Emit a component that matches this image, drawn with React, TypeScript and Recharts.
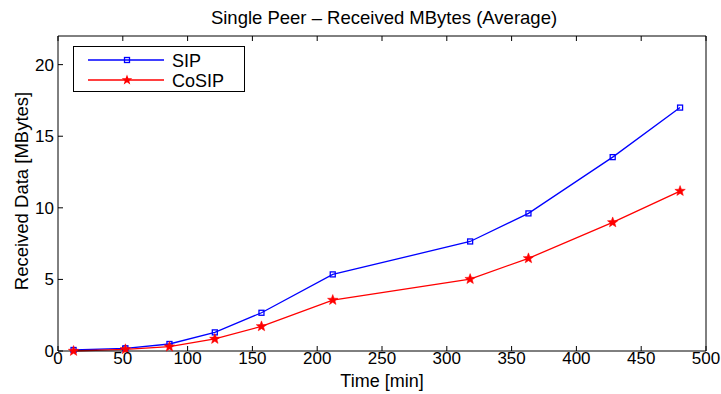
import { Line, LineChart, XAxis, YAxis } from "recharts";

const times = [12, 52, 86, 121, 157, 212, 318, 363, 428, 480];
const sipMB = [0.07, 0.19, 0.49, 1.3, 2.67, 5.35, 7.65, 9.61, 13.54, 17.0];
const cosipMB = [0.0, 0.12, 0.3, 0.84, 1.72, 3.56, 5.02, 6.47, 8.98, 11.17];
const xTicks = [0, 50, 100, 150, 200, 250, 300, 350, 400, 450, 500];
const yTicks = [0, 5, 10, 15, 20];

const data = times.map((t, i) => ({ t, sip: sipMB[i], cosip: cosipMB[i] }));

const FONT = "'Liberation Sans', Arial, Helvetica, sans-serif";

function starPath(cx: number, cy: number, r: number) {
  const pts: string[] = [];
  for (let k = 0; k < 10; k++) {
    const rr = k % 2 === 0 ? r : r * 0.42;
    const a = -Math.PI / 2 + (k * Math.PI) / 5;
    pts.push(`${cx + rr * Math.cos(a)},${cy + rr * Math.sin(a)}`);
  }
  return "M" + pts.join("L") + "Z";
}

const SquareDot = (p: any) => (
  <rect key={p.index} x={p.cx - 2.5} y={p.cy - 2.5} width={5} height={5} fill="none" stroke="#0000ff" strokeWidth={1.3} />
);
const StarDot = (p: any) => <path key={p.index} d={starPath(p.cx, p.cy, 5.5)} fill="#ff0000" stroke="#ff0000" strokeWidth={0.5} />;

function LegendBox() {
  return (
    <div style={{ position: "absolute", left: 73, top: 46, width: 172, height: 46, border: "1px solid #000", background: "#fff", boxSizing: "border-box" }}>
      <svg width={170} height={44} style={{ display: "block" }}>
        <line x1={14} x2={90} y1={13} y2={13} stroke="#0000ff" strokeWidth={1.3} />
        <rect x={50.5} y={10.5} width={5} height={5} fill="none" stroke="#0000ff" strokeWidth={1.3} />
        <text x={98} y={20} fontSize={18} fontFamily={FONT}>SIP</text>
        <line x1={14} x2={90} y1={33} y2={33} stroke="#ff0000" strokeWidth={1.3} />
        <path d={starPath(53, 33, 5.5)} fill="#ff0000" />
        <text x={98} y={40} fontSize={18} fontFamily={FONT}>CoSIP</text>
      </svg>
    </div>
  );
}

export default function App() {
  const tickStyle = { fontSize: 17, fill: "#000", fontFamily: FONT };
  const empty = () => "";
  return (
    <div style={{ position: "fixed", left: 0, top: 0, width: 721, height: 394, background: "#fff" }}>
      <LineChart width={721} height={394} data={data} margin={{ top: 35, right: 14, bottom: 0, left: 0 }}>
        <text x={384} y={24} textAnchor="middle" fontSize={18.5} fontFamily={FONT}>
          Single Peer – Received MBytes (Average)
        </text>
        <text x={382} y={387} textAnchor="middle" fontSize={18} fontFamily={FONT}>
          Time [min]
        </text>
        <text x={28} y={191} textAnchor="middle" fontSize={18.5} fontFamily={FONT} transform="rotate(-90 28 191)">
          Received Data [MBytes]
        </text>
        <XAxis xAxisId="b" dataKey="t" type="number" domain={[0, 500]} ticks={xTicks} height={43}
          tickSize={-5} tickMargin={6} tick={tickStyle} stroke="#000" interval={0} />
        <XAxis xAxisId="t" orientation="top" dataKey="t" type="number" domain={[0, 500]} ticks={xTicks} height={1}
          tickSize={-5} tickFormatter={empty} stroke="#000" interval={0} />
        <YAxis yAxisId="l" type="number" domain={[0, 22]} ticks={yTicks} width={58}
          tickSize={-5} tickMargin={9} tick={tickStyle} stroke="#000" interval={0} />
        <YAxis yAxisId="r" orientation="right" type="number" domain={[0, 22]} ticks={yTicks} width={1}
          tickSize={-5} tickFormatter={empty} stroke="#000" interval={0} />
        <Line xAxisId="b" yAxisId="l" dataKey="sip" stroke="#0000ff" strokeWidth={1.3} dot={SquareDot} isAnimationActive={false} />
        <Line xAxisId="b" yAxisId="l" dataKey="cosip" stroke="#ff0000" strokeWidth={1.3} dot={StarDot} isAnimationActive={false} />
      </LineChart>
      <LegendBox />
    </div>
  );
}
